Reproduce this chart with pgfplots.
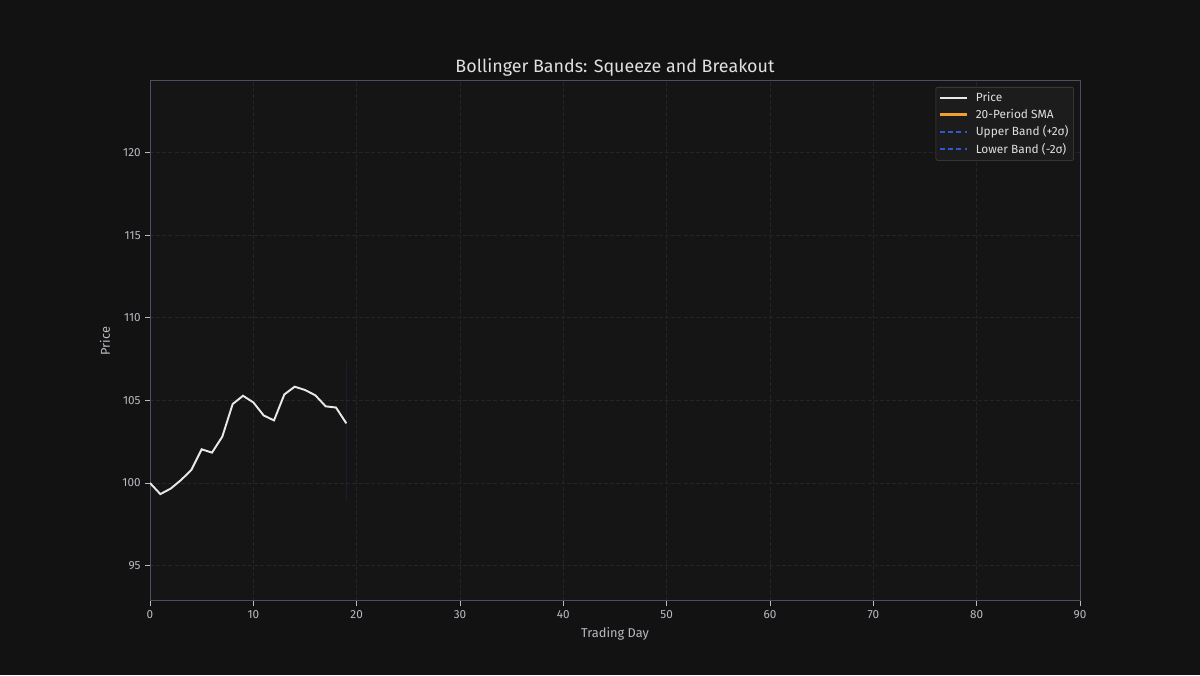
\documentclass[border=0pt]{standalone}
\usepackage{pgfplots}
\pgfplotsset{compat=1.18}
\usepackage{fontspec}
\setmainfont{Fira Sans}
\definecolor{figbg}{RGB}{18,18,18}
\definecolor{axbg}{RGB}{21,21,21}
\definecolor{spine}{RGB}{78,78,95}
\definecolor{gridc}{RGB}{37,37,37}
\definecolor{tickc}{RGB}{185,185,195}
\definecolor{pricec}{RGB}{232,232,232}
\definecolor{smac}{RGB}{240,160,48}
\definecolor{bandc}{RGB}{48,85,215}
\begin{document}
\begin{tikzpicture}
\fill[figbg] (0,0) rectangle (900pt,506.25pt);
\begin{axis}[
  at={(112.5pt,55.5pt)}, anchor=south west,
  scale only axis, width=697.5pt, height=390pt,
  xmin=0, xmax=90, ymin=92.86, ymax=124.33,
  xtick={0,10,...,90}, ytick={95,100,...,120},
  axis background/.style={fill=axbg},
  axis line style={spine, line width=0.75pt},
  tick align=outside, tick pos=left,
  major tick length=3.5pt,
  tick style={tickc, line width=0.75pt},
  grid=major,
  major grid style={gridc, dash pattern=on 3pt off 1.6pt, line width=0.6pt},
  ticklabel style={font=\fontsize{8.8}{10}\selectfont, text=tickc},
  /pgf/number format/assume math mode=true,
  title={Bollinger Bands: Squeeze and Breakout},
  title style={font=\fontsize{13.4}{16}\selectfont, text=white!88!black, at={(0.5,1)}, anchor=base, yshift=0pt},
  xlabel={Trading Day}, ylabel={Price},
  label style={font=\fontsize{9.6}{11}\selectfont, text=tickc},
  xlabel style={at={(axis description cs:0.5,0)}, anchor=center, yshift=-24.75pt},
  ylabel style={at={(axis description cs:-0.0484,0.5)}, anchor=center},
  legend style={at={(0.9935,0.9885)}, anchor=north east, fill=white!11!black, draw=white!27!black,
    font=\fontsize{8.9}{11}\selectfont, text=white!88!black, row sep=0pt, inner sep=2pt, rounded corners=1.5pt},
  legend cell align=left,
  legend image code/.code={\draw[mark repeat=2,mark phase=2] plot coordinates {(0pt,0pt)(10pt,0pt)(20pt,0pt)};
    \path (24pt,0pt);},
]
% band fill (one point wide)
\addplot[bandc, opacity=0.15, line width=0.9pt, forget plot] coordinates {(19,98.93) (19,107.41)};
\addplot[pricec, line width=1.45pt] coordinates {
(0,100.00) (1,99.33) (2,99.66) (3,100.18) (4,100.79) (5,102.04) (6,101.84) (7,102.81)
(8,104.78) (9,105.28) (10,104.88) (11,104.09) (12,103.79) (13,105.36) (14,105.83)
(15,105.63) (16,105.31) (17,104.64) (18,104.57) (19,103.61)};
\addlegendentry{Price}
\addplot[smac, line width=2pt] coordinates {(19,103.17)};
\addlegendentry{20-Period SMA}
\addplot[bandc, line width=1.2pt, dash pattern=on 3.7pt off 2.5pt] coordinates {(19,107.41)};
\addlegendentry{Upper Band (+2σ)}
\addplot[bandc, line width=1.2pt, dash pattern=on 3.7pt off 2.5pt] coordinates {(19,98.93)};
\addlegendentry{Lower Band (-2σ)}
\end{axis}
\pgfresetboundingbox
\path[use as bounding box] (0,0) rectangle (900pt,506.25pt);
\end{tikzpicture}
\end{document}
